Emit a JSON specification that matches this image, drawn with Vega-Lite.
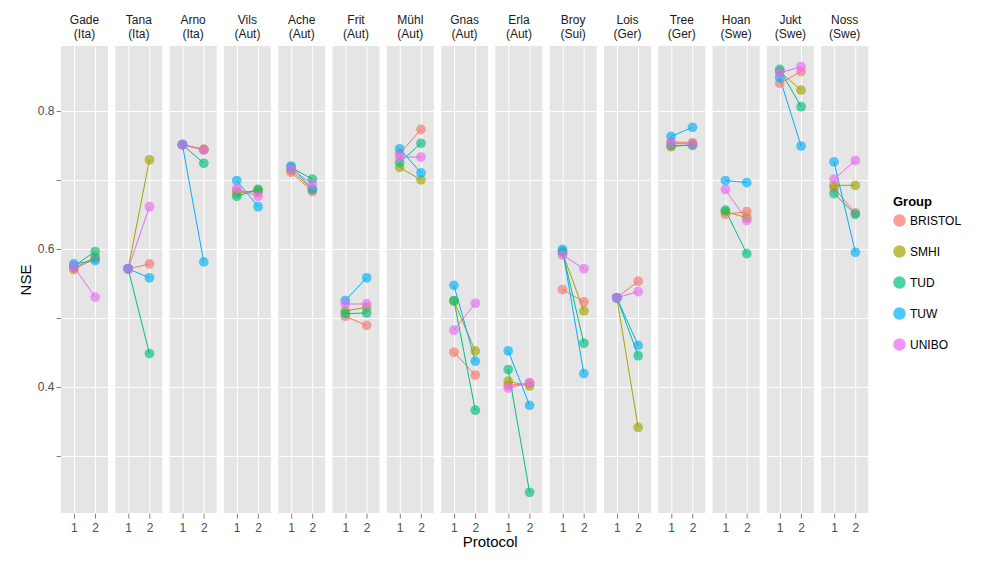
{
  "$schema": "https://vega.github.io/schema/vega-lite/v6.json",
  "padding": {"left": 18, "top": 14, "right": 5, "bottom": 5},
  "title": {"text": "Protocol", "orient": "bottom", "anchor": "middle", "fontSize": 15, "fontWeight": "normal", "font": "Liberation Sans", "color": "#000", "offset": 2},
  "data": {
    "values": [
      {"c": "Gade (Ita)", "p": "1", "g": "BRISTOL", "nse": 0.570}, {"c": "Gade (Ita)", "p": "2", "g": "BRISTOL", "nse": 0.586},
      {"c": "Gade (Ita)", "p": "1", "g": "SMHI", "nse": 0.572}, {"c": "Gade (Ita)", "p": "2", "g": "SMHI", "nse": 0.588},
      {"c": "Gade (Ita)", "p": "1", "g": "TUD", "nse": 0.575}, {"c": "Gade (Ita)", "p": "2", "g": "TUD", "nse": 0.596},
      {"c": "Gade (Ita)", "p": "1", "g": "TUW", "nse": 0.578}, {"c": "Gade (Ita)", "p": "2", "g": "TUW", "nse": 0.583},
      {"c": "Gade (Ita)", "p": "1", "g": "UNIBO", "nse": 0.574}, {"c": "Gade (Ita)", "p": "2", "g": "UNIBO", "nse": 0.530},
      {"c": "Tana (Ita)", "p": "1", "g": "BRISTOL", "nse": 0.571}, {"c": "Tana (Ita)", "p": "2", "g": "BRISTOL", "nse": 0.578},
      {"c": "Tana (Ita)", "p": "1", "g": "SMHI", "nse": 0.571}, {"c": "Tana (Ita)", "p": "2", "g": "SMHI", "nse": 0.729},
      {"c": "Tana (Ita)", "p": "1", "g": "TUD", "nse": 0.571}, {"c": "Tana (Ita)", "p": "2", "g": "TUD", "nse": 0.448},
      {"c": "Tana (Ita)", "p": "1", "g": "TUW", "nse": 0.571}, {"c": "Tana (Ita)", "p": "2", "g": "TUW", "nse": 0.558},
      {"c": "Tana (Ita)", "p": "1", "g": "UNIBO", "nse": 0.571}, {"c": "Tana (Ita)", "p": "2", "g": "UNIBO", "nse": 0.661},
      {"c": "Arno (Ita)", "p": "1", "g": "BRISTOL", "nse": 0.751}, {"c": "Arno (Ita)", "p": "2", "g": "BRISTOL", "nse": 0.744},
      {"c": "Arno (Ita)", "p": "1", "g": "SMHI", "nse": 0.751}, {"c": "Arno (Ita)", "p": "2", "g": "SMHI", "nse": 0.744},
      {"c": "Arno (Ita)", "p": "1", "g": "TUD", "nse": 0.751}, {"c": "Arno (Ita)", "p": "2", "g": "TUD", "nse": 0.724},
      {"c": "Arno (Ita)", "p": "1", "g": "TUW", "nse": 0.751}, {"c": "Arno (Ita)", "p": "2", "g": "TUW", "nse": 0.581},
      {"c": "Arno (Ita)", "p": "1", "g": "UNIBO", "nse": 0.751}, {"c": "Arno (Ita)", "p": "2", "g": "UNIBO", "nse": 0.743},
      {"c": "Vils (Aut)", "p": "1", "g": "BRISTOL", "nse": 0.684}, {"c": "Vils (Aut)", "p": "2", "g": "BRISTOL", "nse": 0.682},
      {"c": "Vils (Aut)", "p": "1", "g": "SMHI", "nse": 0.680}, {"c": "Vils (Aut)", "p": "2", "g": "SMHI", "nse": 0.685},
      {"c": "Vils (Aut)", "p": "1", "g": "TUD", "nse": 0.676}, {"c": "Vils (Aut)", "p": "2", "g": "TUD", "nse": 0.686},
      {"c": "Vils (Aut)", "p": "1", "g": "TUW", "nse": 0.699}, {"c": "Vils (Aut)", "p": "2", "g": "TUW", "nse": 0.661},
      {"c": "Vils (Aut)", "p": "1", "g": "UNIBO", "nse": 0.687}, {"c": "Vils (Aut)", "p": "2", "g": "UNIBO", "nse": 0.676},
      {"c": "Ache (Aut)", "p": "1", "g": "BRISTOL", "nse": 0.711}, {"c": "Ache (Aut)", "p": "2", "g": "BRISTOL", "nse": 0.683},
      {"c": "Ache (Aut)", "p": "1", "g": "SMHI", "nse": 0.714}, {"c": "Ache (Aut)", "p": "2", "g": "SMHI", "nse": 0.686},
      {"c": "Ache (Aut)", "p": "1", "g": "TUD", "nse": 0.718}, {"c": "Ache (Aut)", "p": "2", "g": "TUD", "nse": 0.701},
      {"c": "Ache (Aut)", "p": "1", "g": "TUW", "nse": 0.720}, {"c": "Ache (Aut)", "p": "2", "g": "TUW", "nse": 0.686},
      {"c": "Ache (Aut)", "p": "1", "g": "UNIBO", "nse": 0.716}, {"c": "Ache (Aut)", "p": "2", "g": "UNIBO", "nse": 0.694},
      {"c": "Frit (Aut)", "p": "1", "g": "BRISTOL", "nse": 0.502}, {"c": "Frit (Aut)", "p": "2", "g": "BRISTOL", "nse": 0.489},
      {"c": "Frit (Aut)", "p": "1", "g": "SMHI", "nse": 0.510}, {"c": "Frit (Aut)", "p": "2", "g": "SMHI", "nse": 0.515},
      {"c": "Frit (Aut)", "p": "1", "g": "TUD", "nse": 0.506}, {"c": "Frit (Aut)", "p": "2", "g": "TUD", "nse": 0.507},
      {"c": "Frit (Aut)", "p": "1", "g": "TUW", "nse": 0.525}, {"c": "Frit (Aut)", "p": "2", "g": "TUW", "nse": 0.558},
      {"c": "Frit (Aut)", "p": "1", "g": "UNIBO", "nse": 0.520}, {"c": "Frit (Aut)", "p": "2", "g": "UNIBO", "nse": 0.520},
      {"c": "Mühl (Aut)", "p": "1", "g": "BRISTOL", "nse": 0.738}, {"c": "Mühl (Aut)", "p": "2", "g": "BRISTOL", "nse": 0.773},
      {"c": "Mühl (Aut)", "p": "1", "g": "SMHI", "nse": 0.718}, {"c": "Mühl (Aut)", "p": "2", "g": "SMHI", "nse": 0.700},
      {"c": "Mühl (Aut)", "p": "1", "g": "TUD", "nse": 0.725}, {"c": "Mühl (Aut)", "p": "2", "g": "TUD", "nse": 0.753},
      {"c": "Mühl (Aut)", "p": "1", "g": "TUW", "nse": 0.745}, {"c": "Mühl (Aut)", "p": "2", "g": "TUW", "nse": 0.710},
      {"c": "Mühl (Aut)", "p": "1", "g": "UNIBO", "nse": 0.733}, {"c": "Mühl (Aut)", "p": "2", "g": "UNIBO", "nse": 0.733},
      {"c": "Gnas (Aut)", "p": "1", "g": "BRISTOL", "nse": 0.450}, {"c": "Gnas (Aut)", "p": "2", "g": "BRISTOL", "nse": 0.417},
      {"c": "Gnas (Aut)", "p": "1", "g": "SMHI", "nse": 0.524}, {"c": "Gnas (Aut)", "p": "2", "g": "SMHI", "nse": 0.452},
      {"c": "Gnas (Aut)", "p": "1", "g": "TUD", "nse": 0.525}, {"c": "Gnas (Aut)", "p": "2", "g": "TUD", "nse": 0.366},
      {"c": "Gnas (Aut)", "p": "1", "g": "TUW", "nse": 0.547}, {"c": "Gnas (Aut)", "p": "2", "g": "TUW", "nse": 0.437},
      {"c": "Gnas (Aut)", "p": "1", "g": "UNIBO", "nse": 0.482}, {"c": "Gnas (Aut)", "p": "2", "g": "UNIBO", "nse": 0.521},
      {"c": "Erla (Aut)", "p": "1", "g": "BRISTOL", "nse": 0.402}, {"c": "Erla (Aut)", "p": "2", "g": "BRISTOL", "nse": 0.405},
      {"c": "Erla (Aut)", "p": "1", "g": "SMHI", "nse": 0.408}, {"c": "Erla (Aut)", "p": "2", "g": "SMHI", "nse": 0.401},
      {"c": "Erla (Aut)", "p": "1", "g": "TUD", "nse": 0.425}, {"c": "Erla (Aut)", "p": "2", "g": "TUD", "nse": 0.247},
      {"c": "Erla (Aut)", "p": "1", "g": "TUW", "nse": 0.452}, {"c": "Erla (Aut)", "p": "2", "g": "TUW", "nse": 0.373},
      {"c": "Erla (Aut)", "p": "1", "g": "UNIBO", "nse": 0.398}, {"c": "Erla (Aut)", "p": "2", "g": "UNIBO", "nse": 0.406},
      {"c": "Broy (Sui)", "p": "1", "g": "BRISTOL", "nse": 0.541}, {"c": "Broy (Sui)", "p": "2", "g": "BRISTOL", "nse": 0.523},
      {"c": "Broy (Sui)", "p": "1", "g": "SMHI", "nse": 0.594}, {"c": "Broy (Sui)", "p": "2", "g": "SMHI", "nse": 0.510},
      {"c": "Broy (Sui)", "p": "1", "g": "TUD", "nse": 0.596}, {"c": "Broy (Sui)", "p": "2", "g": "TUD", "nse": 0.463},
      {"c": "Broy (Sui)", "p": "1", "g": "TUW", "nse": 0.599}, {"c": "Broy (Sui)", "p": "2", "g": "TUW", "nse": 0.419},
      {"c": "Broy (Sui)", "p": "1", "g": "UNIBO", "nse": 0.591}, {"c": "Broy (Sui)", "p": "2", "g": "UNIBO", "nse": 0.571},
      {"c": "Lois (Ger)", "p": "1", "g": "BRISTOL", "nse": 0.529}, {"c": "Lois (Ger)", "p": "2", "g": "BRISTOL", "nse": 0.553},
      {"c": "Lois (Ger)", "p": "1", "g": "SMHI", "nse": 0.529}, {"c": "Lois (Ger)", "p": "2", "g": "SMHI", "nse": 0.341},
      {"c": "Lois (Ger)", "p": "1", "g": "TUD", "nse": 0.529}, {"c": "Lois (Ger)", "p": "2", "g": "TUD", "nse": 0.445},
      {"c": "Lois (Ger)", "p": "1", "g": "TUW", "nse": 0.529}, {"c": "Lois (Ger)", "p": "2", "g": "TUW", "nse": 0.460},
      {"c": "Lois (Ger)", "p": "1", "g": "UNIBO", "nse": 0.529}, {"c": "Lois (Ger)", "p": "2", "g": "UNIBO", "nse": 0.538},
      {"c": "Tree (Ger)", "p": "1", "g": "BRISTOL", "nse": 0.755}, {"c": "Tree (Ger)", "p": "2", "g": "BRISTOL", "nse": 0.754},
      {"c": "Tree (Ger)", "p": "1", "g": "SMHI", "nse": 0.748}, {"c": "Tree (Ger)", "p": "2", "g": "SMHI", "nse": 0.751},
      {"c": "Tree (Ger)", "p": "1", "g": "TUD", "nse": 0.750}, {"c": "Tree (Ger)", "p": "2", "g": "TUD", "nse": 0.750},
      {"c": "Tree (Ger)", "p": "1", "g": "TUW", "nse": 0.763}, {"c": "Tree (Ger)", "p": "2", "g": "TUW", "nse": 0.776},
      {"c": "Tree (Ger)", "p": "1", "g": "UNIBO", "nse": 0.753}, {"c": "Tree (Ger)", "p": "2", "g": "UNIBO", "nse": 0.752},
      {"c": "Hoan (Swe)", "p": "1", "g": "BRISTOL", "nse": 0.650}, {"c": "Hoan (Swe)", "p": "2", "g": "BRISTOL", "nse": 0.654},
      {"c": "Hoan (Swe)", "p": "1", "g": "SMHI", "nse": 0.654}, {"c": "Hoan (Swe)", "p": "2", "g": "SMHI", "nse": 0.645},
      {"c": "Hoan (Swe)", "p": "1", "g": "TUD", "nse": 0.656}, {"c": "Hoan (Swe)", "p": "2", "g": "TUD", "nse": 0.593},
      {"c": "Hoan (Swe)", "p": "1", "g": "TUW", "nse": 0.699}, {"c": "Hoan (Swe)", "p": "2", "g": "TUW", "nse": 0.696},
      {"c": "Hoan (Swe)", "p": "1", "g": "UNIBO", "nse": 0.686}, {"c": "Hoan (Swe)", "p": "2", "g": "UNIBO", "nse": 0.641},
      {"c": "Jukt (Swe)", "p": "1", "g": "BRISTOL", "nse": 0.840}, {"c": "Jukt (Swe)", "p": "2", "g": "BRISTOL", "nse": 0.857},
      {"c": "Jukt (Swe)", "p": "1", "g": "SMHI", "nse": 0.857}, {"c": "Jukt (Swe)", "p": "2", "g": "SMHI", "nse": 0.830},
      {"c": "Jukt (Swe)", "p": "1", "g": "TUD", "nse": 0.860}, {"c": "Jukt (Swe)", "p": "2", "g": "TUD", "nse": 0.806},
      {"c": "Jukt (Swe)", "p": "1", "g": "TUW", "nse": 0.848}, {"c": "Jukt (Swe)", "p": "2", "g": "TUW", "nse": 0.749},
      {"c": "Jukt (Swe)", "p": "1", "g": "UNIBO", "nse": 0.855}, {"c": "Jukt (Swe)", "p": "2", "g": "UNIBO", "nse": 0.864},
      {"c": "Noss (Swe)", "p": "1", "g": "BRISTOL", "nse": 0.688}, {"c": "Noss (Swe)", "p": "2", "g": "BRISTOL", "nse": 0.652},
      {"c": "Noss (Swe)", "p": "1", "g": "SMHI", "nse": 0.692}, {"c": "Noss (Swe)", "p": "2", "g": "SMHI", "nse": 0.692},
      {"c": "Noss (Swe)", "p": "1", "g": "TUD", "nse": 0.680}, {"c": "Noss (Swe)", "p": "2", "g": "TUD", "nse": 0.650},
      {"c": "Noss (Swe)", "p": "1", "g": "TUW", "nse": 0.726}, {"c": "Noss (Swe)", "p": "2", "g": "TUW", "nse": 0.595},
      {"c": "Noss (Swe)", "p": "1", "g": "UNIBO", "nse": 0.701}, {"c": "Noss (Swe)", "p": "2", "g": "UNIBO", "nse": 0.728}
    ]
  },
  "facet": {
    "column": {
      "field": "c",
      "type": "nominal",
      "sort": ["Gade (Ita)", "Tana (Ita)", "Arno (Ita)", "Vils (Aut)", "Ache (Aut)", "Frit (Aut)", "Mühl (Aut)", "Gnas (Aut)", "Erla (Aut)", "Broy (Sui)", "Lois (Ger)", "Tree (Ger)", "Hoan (Swe)", "Jukt (Swe)", "Noss (Swe)"],
      "header": {
        "title": null,
        "labelExpr": "split(datum.value, ' ')",
        "labelFontSize": 12,
        "labelFont": "Liberation Sans",
        "labelColor": "#1a1a1a",
        "labelPadding": 5
      }
    }
  },
  "spacing": 7.3,
  "spec": {
    "width": 47,
    "height": 467,
    "encoding": {
      "x": {
        "field": "p",
        "type": "ordinal",
        "scale": {"type": "point", "padding": 0.6},
        "axis": {"title": null, "labelAngle": 0, "labelFontSize": 12, "labelColor": "#4d4d4d", "tickColor": "#7f7f7f", "domain": false, "grid": true, "gridColor": "white", "labelPadding": 4}
      },
      "y": {
        "field": "nse",
        "type": "quantitative",
        "scale": {"domain": [0.217, 0.894], "nice": false, "zero": false},
        "axis": {"title": "NSE", "titleFontSize": 15, "titleFontWeight": "normal", "titleColor": "#000", "values": [0.3, 0.4, 0.5, 0.6, 0.7, 0.8], "labelExpr": "datum.value == 0.4 || datum.value == 0.6 || datum.value == 0.8 ? format(datum.value, '.1f') : ''", "tickColor": "#7f7f7f", "labelFontSize": 12, "labelColor": "#4d4d4d", "domain": false, "gridColor": "white", "gridWidth": 1}
      },
      "color": {
        "field": "g",
        "type": "nominal",
        "title": "Group",
        "scale": {"domain": ["BRISTOL", "SMHI", "TUD", "TUW", "UNIBO"], "range": ["#F8766D", "#A3A500", "#00BF7D", "#00B0F6", "#E76BF3"]},
        "legend": {"orient": "none", "legendX": 832, "legendY": 150, "titleFontSize": 13, "labelFontSize": 12, "symbolType": "circle", "symbolSize": 120, "symbolOpacity": 0.7, "rowPadding": 14}
      }
    },
    "layer": [
      {"mark": {"type": "line", "strokeWidth": 1}, "encoding": {"detail": {"field": "g"}}},
      {"mark": {"type": "circle", "size": 95, "opacity": 0.65}}
    ]
  },
  "config": {
    "font": "Liberation Sans",
    "view": {"fill": "#E5E5E5", "stroke": null},
    "legend": {"titleFont": "Liberation Sans", "labelFont": "Liberation Sans"}
  }
}
